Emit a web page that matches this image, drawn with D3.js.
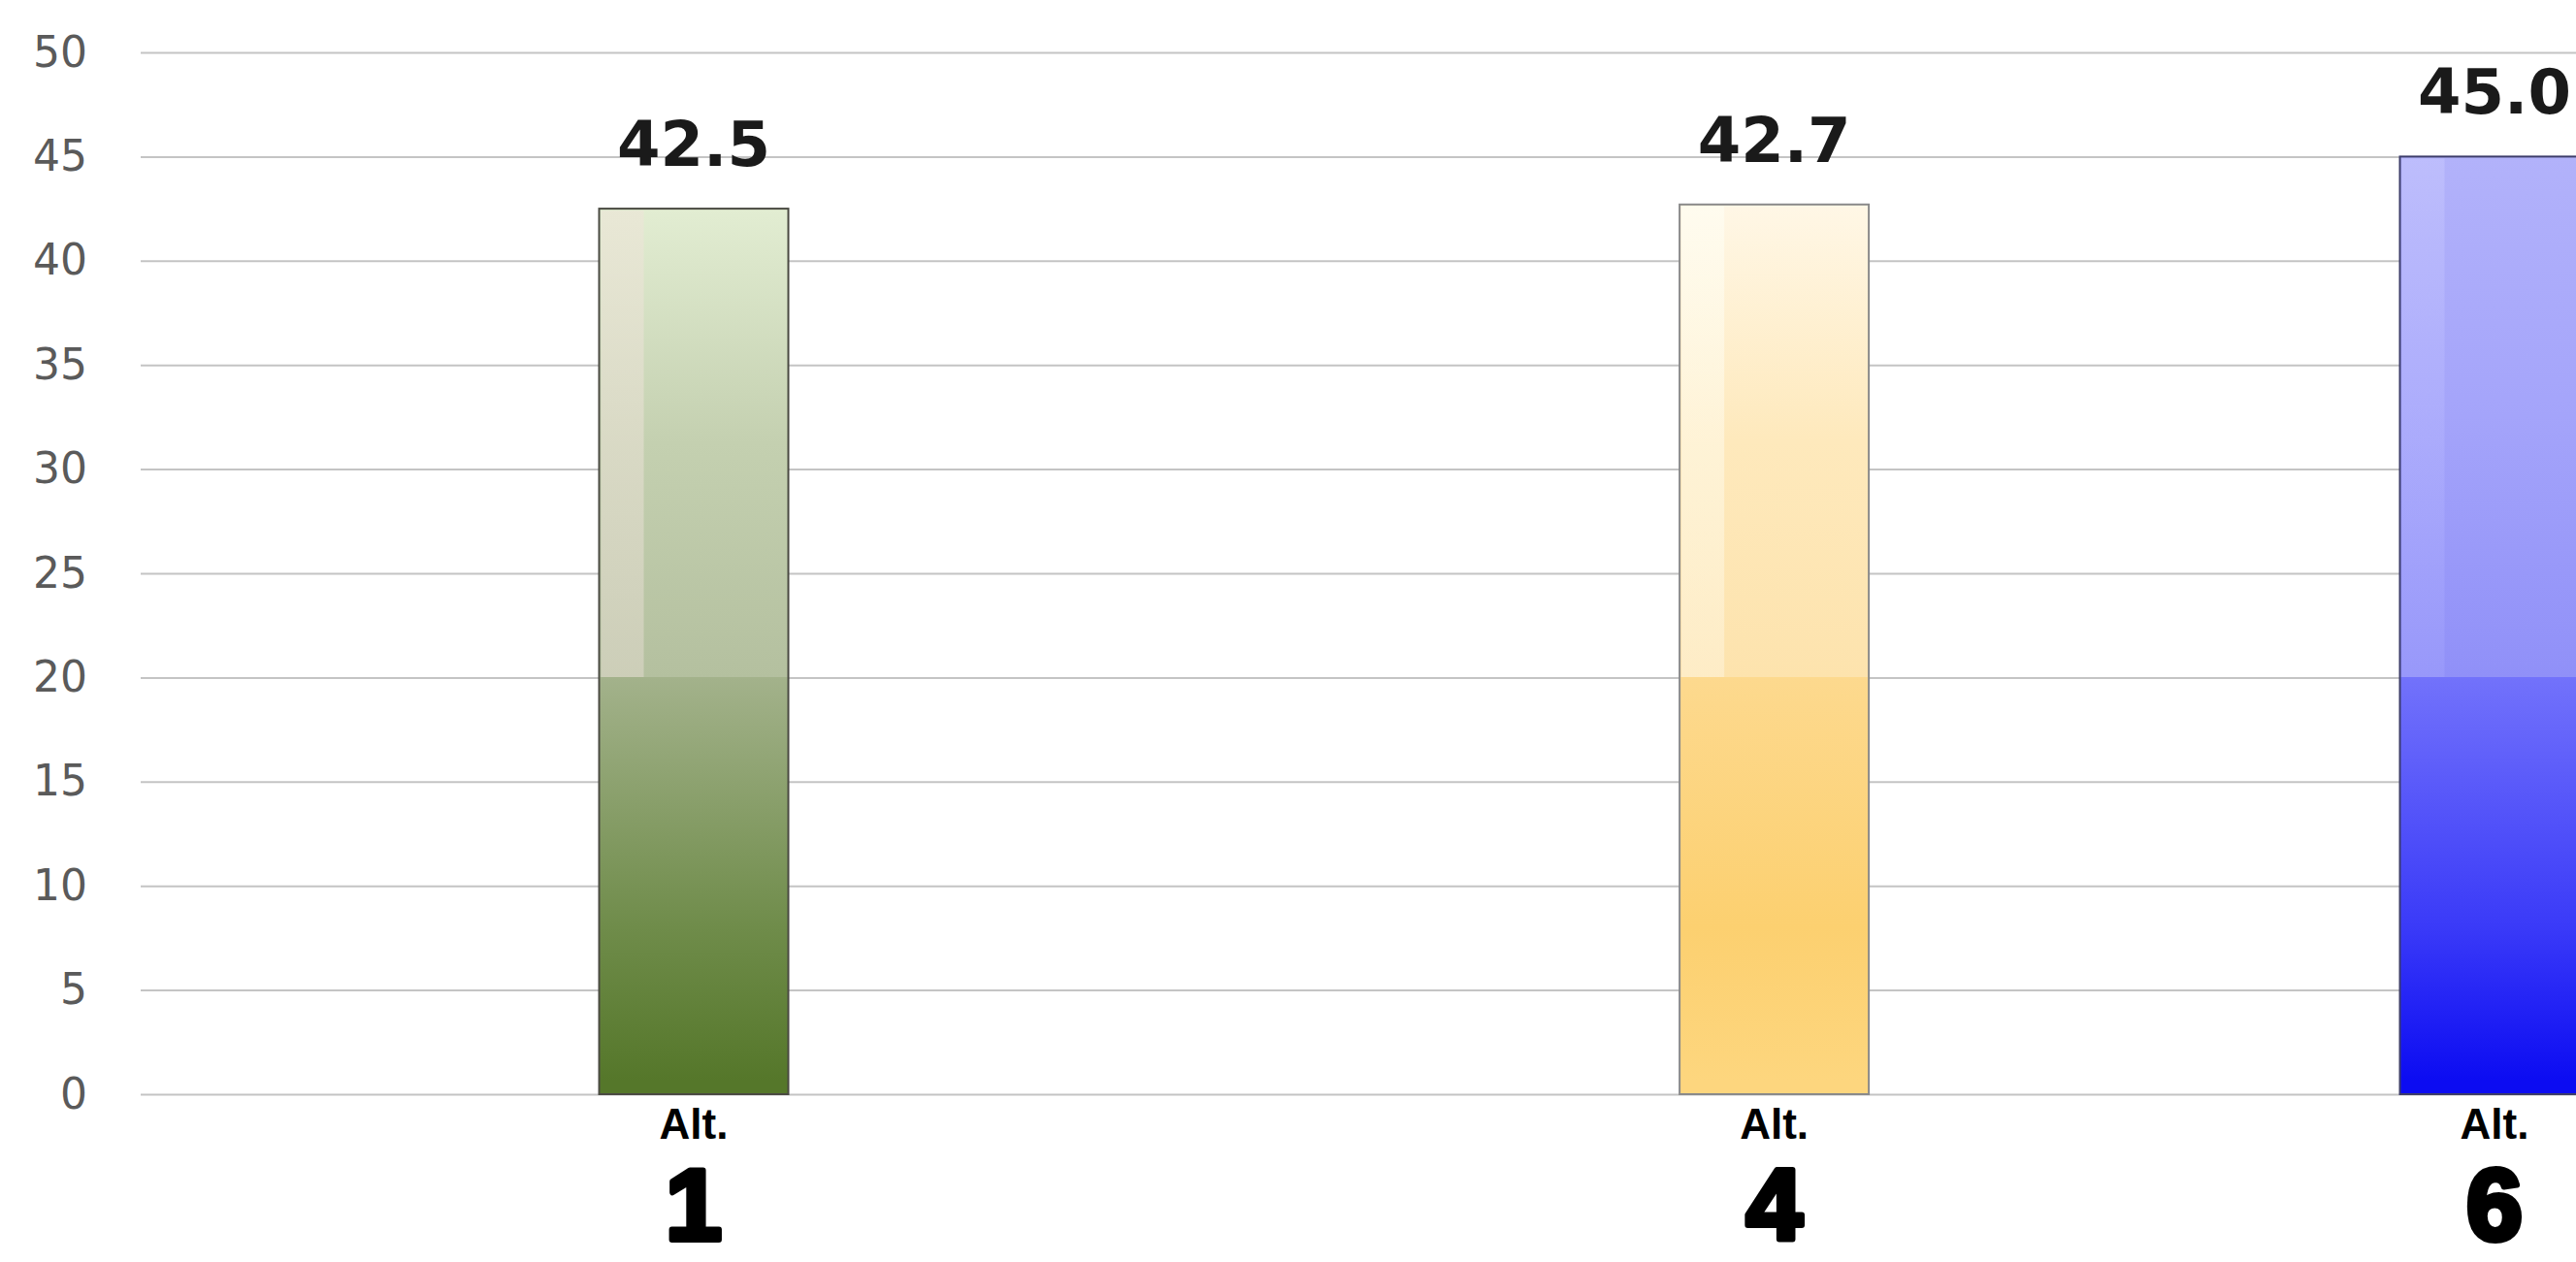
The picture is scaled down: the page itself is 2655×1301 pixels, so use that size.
<!DOCTYPE html>
<html>
<head>
<meta charset="utf-8">
<script src="https://cdn.jsdelivr.net/npm/d3@7"></script>
<style>
  html, body { margin: 0; padding: 0; background: #ffffff; }
  svg { display: block; }
</style>
</head>
<body>
<svg id="chart" width="2655" height="1301"></svg>
<script>
// ---- data ----
const alternatives = [1, 4, 6];
const values = [42.5, 42.7, 45.0];
const yTicks = [0, 5, 10, 15, 20, 25, 30, 35, 40, 45, 50];
const categoryPrefix = "Alt.";

// ---- styles (kept apart from data) ----
const barStyles = [
  { stroke: "#4a4a42", top: "#e2edd2", mid: "#c4d0b0", pre: "#b4c09f", post: "#a3b28b", low: "#6f8c4a", bottom: "#55772a",
    stripTop: "rgba(235,230,215,0.75)", stripPre: "rgba(215,212,195,0.7)" },
  { stroke: "#8a8a8a", top: "#fff7e6", mid: "#fee9bc", pre: "#fde3ad", post: "#fdd98e", low: "#fcd070", bottom: "#fdd67e",
    stripTop: "rgba(255,255,245,0.6)", stripPre: "rgba(255,250,235,0.4)" },
  { stroke: "#3c3c6a", top: "#b2b2fa", mid: "#a4a4fa", pre: "#9090f8", post: "#7272fb", low: "#3a3af8", bottom: "#0c0cf2",
    stripTop: "rgba(200,200,255,0.5)", stripPre: "rgba(170,170,255,0.3)" }
];

const W = 2655, H = 1301;
const svg = d3.select("#chart");
svg.append("rect").attr("width", W).attr("height", H).attr("fill", "#ffffff");

const y = d3.scaleLinear().domain([0, 50]).range([1128, 54]);
const x = d3.scaleLinear().domain([1, 6]).range([715, 2571]);
const barW = 195;
const gridLeft = 145;

// grid + y labels
const yAxis = d3.axisLeft(y)
  .tickValues(yTicks)
  .tickSize(-(W - gridLeft))
  .tickPadding(55)
  .tickFormat(d3.format("d"));

const gAxis = svg.append("g")
  .attr("transform", `translate(${gridLeft},0)`)
  .call(yAxis);
gAxis.select(".domain").remove();
gAxis.selectAll(".tick line")
  .attr("stroke", "#c4c4c4")
  .attr("stroke-width", 2);
gAxis.selectAll(".tick text")
  .attr("fill", "#5a5a5a")
  .style("font-family", "'DejaVu Sans', sans-serif")
  .style("font-size", "44px");

// gradients
const defs = svg.append("defs");
const data = alternatives.map((a, i) => ({ alt: a, value: values[i], style: barStyles[i], i }));

data.forEach(d => {
  const top = y(d.value), bot = y(0);
  const f = (y(20) - top) / (bot - top);
  const g = defs.append("linearGradient")
    .attr("id", "grad" + d.i)
    .attr("x1", 0).attr("y1", 0).attr("x2", 0).attr("y2", 1);
  const s = d.style;
  [[0, s.top], [f * 0.5, s.mid], [f, s.pre], [f, s.post], [f + (1 - f) * 0.6, s.low], [0.985, s.bottom], [1, s.bottom]]
    .forEach(([o, c]) => g.append("stop").attr("offset", o).attr("stop-color", c));

  const gs = defs.append("linearGradient")
    .attr("id", "strip" + d.i)
    .attr("x1", 0).attr("y1", 0).attr("x2", 0).attr("y2", 1);
  [[0, s.stripTop], [f, s.stripPre], [f, "rgba(255,255,255,0)"], [1, "rgba(255,255,255,0)"]]
    .forEach(([o, c]) => gs.append("stop").attr("offset", o).attr("stop-color", c));
});

// bars
const gBars = svg.append("g");
gBars.selectAll("rect.bar")
  .data(data)
  .join("rect")
  .attr("class", "bar")
  .attr("x", d => x(d.alt) - barW / 2)
  .attr("y", d => y(d.value))
  .attr("width", barW)
  .attr("height", d => y(0) - y(d.value))
  .attr("fill", d => `url(#grad${d.i})`)
  .attr("stroke", d => d.style.stroke)
  .attr("stroke-width", 2);

gBars.selectAll("rect.strip")
  .data(data)
  .join("rect")
  .attr("class", "strip")
  .attr("x", d => x(d.alt) - barW / 2 + 2)
  .attr("y", d => y(d.value) + 2)
  .attr("width", 44)
  .attr("height", d => y(0) - y(d.value) - 4)
  .attr("fill", d => `url(#strip${d.i})`);

// value labels
svg.append("g").selectAll("text")
  .data(data)
  .join("text")
  .attr("x", d => x(d.alt))
  .attr("y", d => y(d.value) - 44)
  .attr("text-anchor", "middle")
  .attr("fill", "#1a1a1a")
  .style("font-family", "'DejaVu Sans', sans-serif")
  .style("font-weight", "bold")
  .style("font-size", "64px")
  .text(d => d3.format(".1f")(d.value));

// category labels
const gCat = svg.append("g");
gCat.selectAll("text.pre")
  .data(data)
  .join("text")
  .attr("class", "pre")
  .attr("x", d => x(d.alt))
  .attr("y", 1174)
  .attr("text-anchor", "middle")
  .attr("fill", "#000")
  .style("font-family", "'Liberation Sans', Arial, sans-serif")
  .style("font-weight", "bold")
  .style("font-size", "44px")
  .text(categoryPrefix);

gCat.selectAll("text.num")
  .data(data)
  .join("text")
  .attr("class", "num")
  .attr("x", d => x(d.alt))
  .attr("y", 1278)
  .attr("text-anchor", "middle")
  .attr("fill", "#000")
  .attr("stroke", "#000")
  .attr("stroke-width", 6)
  .attr("stroke-linejoin", "round")
  .style("font-family", "'Liberation Sans', Arial, sans-serif")
  .style("font-weight", "bold")
  .style("font-size", "104px")
  .text(d => d.alt);
</script>
</body>
</html>
